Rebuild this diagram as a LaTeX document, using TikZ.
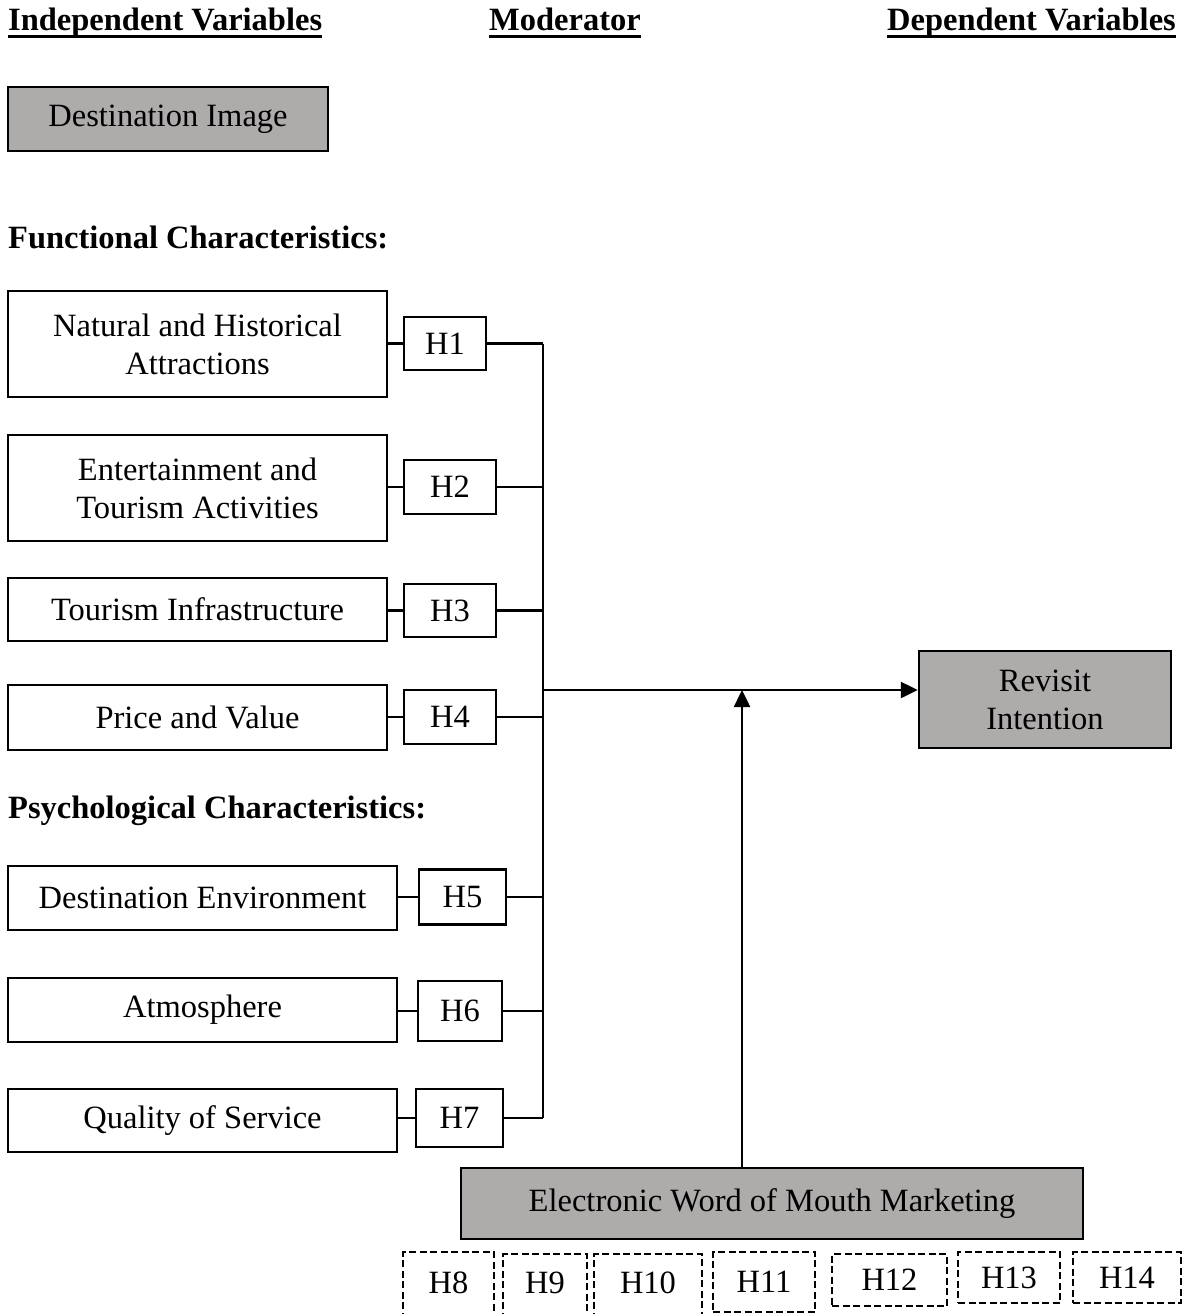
\documentclass[tikz,border=0pt]{standalone}
\usepackage{fontspec}
\setmainfont{Liberation Serif}
\usetikzlibrary{arrows.meta}
\definecolor{boxgray}{RGB}{174,171,171}
\begin{document}
\begin{tikzpicture}[x=1pt,y=-1pt,
  txt/.style={font=\fontsize{32.5}{38}\selectfont},
  head/.style={font=\fontsize{32.5}{38}\selectfont\bfseries, inner sep=0pt, anchor=base west},
  wbox/.style={txt, draw, line width=2.5pt, fill=white, align=center, inner sep=0pt},
  gbox/.style={wbox, fill=boxgray},
  dsh/.style={line width=2.5pt, dash pattern=on 7pt off 3.5pt},
  dbox/.style={txt, draw, dsh, inner sep=0pt},
  conn/.style={line width=2.5pt},
  arr/.style={line width=2.5pt, -{Triangle[length=17pt,width=16pt]}}
]
\useasboundingbox (0,0) rectangle (1189,1314);

% headings
\node[head] (hi) at (8,31) {Independent Variables};
\node[head] (hm) at (489,31) {Moderator};
\node[head] (hd) at (887,31) {Dependent Variables};
\foreach \n in {hi,hm,hd}
  \draw[line width=3pt] ([yshift=-6pt]\n.base west) -- ([yshift=-6pt]\n.base east);

\node[gbox, minimum width=320pt, minimum height=64pt] (di) at (168,119) {Destination Image};

\node[head] (fc) at (8,248) {Functional Characteristics:};
\node[head] (pc) at (8,818) {Psychological Characteristics:};

% independent variable boxes
\node[wbox, minimum width=379pt, minimum height=106pt] (n1) at (197.5,344) {Natural and Historical\\Attractions};
\node[wbox, minimum width=379pt, minimum height=106pt] (n2) at (197.5,488) {Entertainment and\\Tourism Activities};
\node[wbox, minimum width=379pt, minimum height=63pt] (n3) at (197.5,609.5) {Tourism Infrastructure};
\node[wbox, minimum width=379pt, minimum height=65pt] (n4) at (197.5,717.5) {Price and Value};
\node[wbox, minimum width=389pt, minimum height=64pt] (n5) at (202.5,898) {Destination Environment};
\node[wbox, minimum width=389pt, minimum height=64pt] (n6) at (202.5,1010) {Atmosphere};
\node[wbox, minimum width=389pt, minimum height=63pt] (n7) at (202.5,1120.5) {Quality of Service};

% hypothesis boxes
\node[wbox, minimum width=82pt, minimum height=53pt] (h1) at (445,343.5) {H1};
\node[wbox, minimum width=92pt, minimum height=54pt] (h2) at (450,487) {H2};
\node[wbox, minimum width=92pt, minimum height=53pt] (h3) at (450,610.5) {H3};
\node[wbox, minimum width=92pt, minimum height=54pt] (h4) at (450,717) {H4};
\node[wbox, minimum width=87pt, minimum height=55pt] (h5) at (462.5,897) {H5};
\node[wbox, minimum width=84pt, minimum height=60pt] (h6) at (460,1011) {H6};
\node[wbox, minimum width=87pt, minimum height=58pt] (h7) at (459.5,1118) {H7};

% bus
\coordinate (bt) at (543,343.5);
\coordinate (bb) at (543,1118);
\draw[conn] (bt) -- (bb);
\foreach \i in {1,...,7}{
  \draw[conn] (h\i.west) -- (h\i.west -| n\i.east);
  \draw[conn] (h\i.east) -- (h\i.east -| bt);
}

% dependent
\node[gbox, minimum width=252pt, minimum height=97pt] (rev) at (1045,699.5) {Revisit\\Intention};
\coordinate (j) at (543,690);
\coordinate (m) at (742,690);
\draw[arr] (j) -- (j -| rev.west);

% moderator
\node[gbox, minimum width=622pt, minimum height=71pt] (ew) at (772,1203.5) {Electronic Word of Mouth Marketing};
\draw[arr] (ew.north -| m) -- (m);

% dashed hypothesis boxes
\draw[dsh] (403,1330) -- (403,1252) -- (494,1252) -- (494,1330);
\node[txt, inner sep=0pt] (d8) at (448.5,1283) {H8};
\draw[dsh] (503,1330) -- (503,1254) -- (587,1254) -- (587,1330);
\node[txt, inner sep=0pt] (d9) at (545,1283) {H9};
\draw[dsh] (594,1330) -- (594,1254) -- (702,1254) -- (702,1330);
\node[txt, inner sep=0pt] (d10) at (648,1283) {H10};
\node[dbox, minimum width=102pt, minimum height=60pt] (d11) at (764,1282) {H11};
\node[dbox, minimum width=115pt, minimum height=52pt] (d12) at (889.5,1280) {H12};
\node[dbox, minimum width=102pt, minimum height=51pt] (d13) at (1009,1277.5) {H13};
\node[dbox, minimum width=108pt, minimum height=51pt] (d14) at (1127,1277.5) {H14};
\end{tikzpicture}
\end{document}
